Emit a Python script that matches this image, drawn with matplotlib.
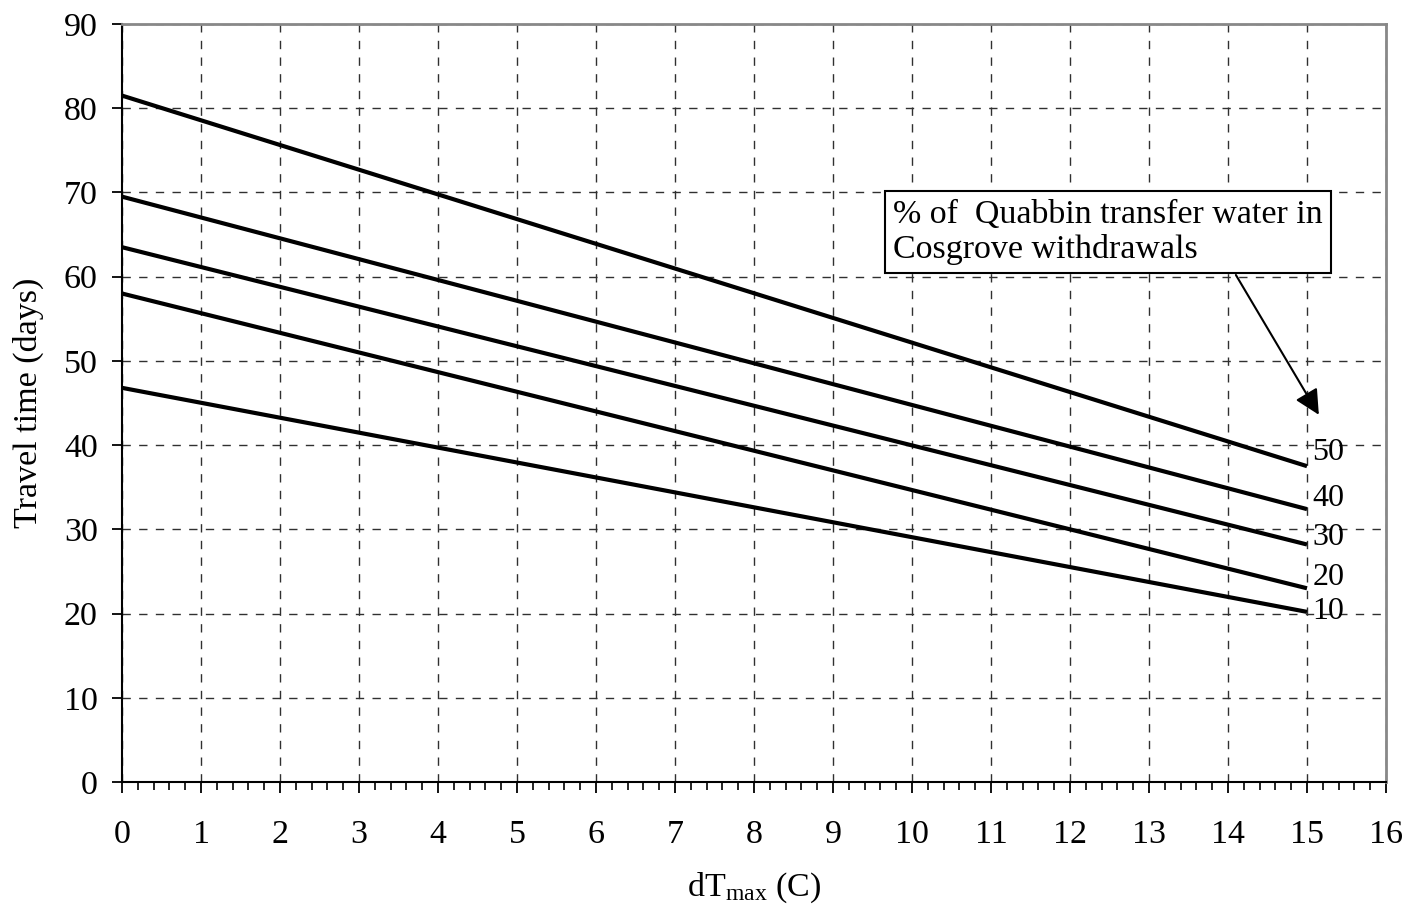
import matplotlib
matplotlib.use("Agg")
import matplotlib.pyplot as plt
from matplotlib.ticker import MultipleLocator

plt.rcParams['font.family'] = ['Liberation Serif', 'DejaVu Serif']
plt.rcParams['mathtext.fontset'] = 'custom'
plt.rcParams['mathtext.rm'] = 'Liberation Serif'
plt.rcParams['mathtext.it'] = 'Liberation Serif:italic'

# dTmax endpoints and travel times
dt = [0, 15]
pct_labels = ['50', '40', '30', '20', '10']
travel = {
    '50': [81.5, 37.5],
    '40': [69.5, 32.4],
    '30': [63.5, 28.2],
    '20': [58.0, 23.0],
    '10': [46.8, 20.2],
}
label_y = [39.1, 33.7, 29.0, 24.3, 20.2]

fig = plt.figure(figsize=(14.08, 9.08), dpi=100)
ax = fig.add_axes([122 / 1408, 1 - 782 / 908, 1264 / 1408, 758 / 908])

for p in pct_labels:
    ax.plot(dt, travel[p], color='black', lw=3, solid_capstyle='butt')

for p, yy in zip(pct_labels, label_y):
    ax.text(15.07, yy, p, fontsize=23, va='center', ha='left')

ax.set_xlim(0, 16)
ax.set_ylim(0, 90)
ax.xaxis.set_major_locator(MultipleLocator(1))
ax.xaxis.set_minor_locator(MultipleLocator(0.2))
ax.yaxis.set_major_locator(MultipleLocator(10))

ax.grid(True, which='major', color='#303030', linestyle=(0, (6, 6)), lw=1)
ax.tick_params(axis='both', which='major', labelsize=24.5, width=1.3)
ax.tick_params(axis='x', which='major', direction='out', length=8, pad=19)
ax.tick_params(axis='x', which='minor', direction='out', length=6, width=1.2)
ax.tick_params(axis='y', which='major', direction='out', length=7.5, pad=10)

for s in ['top', 'right']:
    ax.spines[s].set_color('#888888')
    ax.spines[s].set_linewidth(2)
for s in ['left', 'bottom']:
    ax.spines[s].set_linewidth(1.5)

ax.set_xlabel(r'dT$_{\mathrm{max}}$ (C)', fontsize=24.5, labelpad=15)
ax.set_ylabel('Travel time (days)', fontsize=24.5, labelpad=14)

ax.annotate('', xy=(15.15, 43.6), xytext=(14.1, 60.2),
            arrowprops=dict(arrowstyle='-|>', color='black', lw=1.5,
                            mutation_scale=38, shrinkA=0, shrinkB=0))
ax.text(9.76, 65.3, '% of  Quabbin transfer water in\nCosgrove withdrawals',
        fontsize=24.5, va='center', ha='left', linespacing=1.15,
        bbox=dict(boxstyle='square,pad=0.25', fc='white', ec='black', lw=1.5))

fig.savefig('out.png', dpi=100)
